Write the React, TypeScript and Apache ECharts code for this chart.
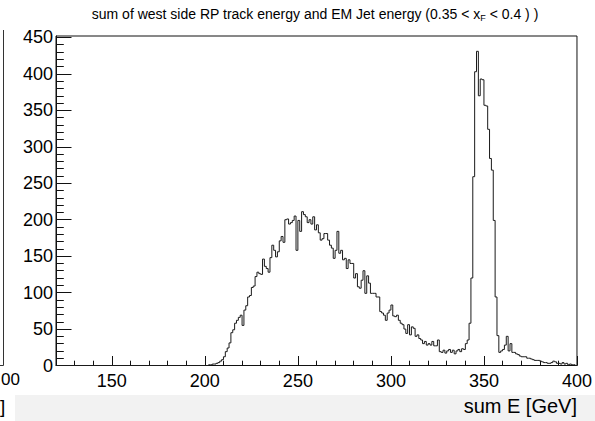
import React, { useEffect, useRef } from "react";
import * as echarts from "echarts";

// Histogram: 1 GeV bins, first bin starts at 200 GeV
const binStart = 200;
const binWidth = 1;
const counts = [
  0, 0, 1, 1, 2, 2, 3, 4, 6, 8,
  12, 19, 24, 31, 45, 49, 58, 62, 66, 69,
  55, 76, 82, 94, 96, 107, 109, 122, 128, 126,
  125, 146, 136, 133, 128, 148, 165, 158, 149, 156,
  171, 177, 169, 200, 201, 194, 196, 199, 205, 158,
  199, 184, 211, 207, 204, 196, 200, 194, 204, 186,
  193, 182, 172, 174, 181, 181, 172, 165, 161, 147,
  158, 184, 154, 158, 145, 147, 133, 145, 140, 140,
  120, 126, 108, 106, 117, 130, 99, 123, 113, 99,
  99, 99, 94, 94, 74, 72, 69, 62, 72, 76,
  83, 68, 67, 69, 62, 58, 56, 50, 44, 56,
  42, 53, 51, 40, 42, 37, 35, 30, 33, 28,
  30, 28, 33, 27, 27, 35, 19, 18, 21, 17,
  20, 22, 18, 21, 16, 20, 22, 19, 23, 22,
  30, 35, 58, 120, 259, 403, 431, 370, 393, 392,
  357, 356, 324, 284, 268, 199, 94, 41, 18, 20,
  22, 28, 40, 20, 30, 18, 18, 16, 15, 13,
  12, 12, 12, 10, 10, 9, 8, 7, 7, 7,
  6, 5, 4, 4, 3, 3, 4, 6, 5, 3,
  3, 2, 4, 2, 3, 1, 2, 1, 1, 0,
];

const xMin = 120;
const xMax = 400;
const yMin = 0;
const yMax = 452;
const xMajorTicks = [150, 200, 250, 300, 350, 400];
const xMinorTicks = [130, 140, 160, 170, 180, 190, 210, 220, 230, 240, 260, 270, 280, 290, 310, 320, 330, 340, 360, 370, 380, 390];
const yMajorTicks = [0, 50, 100, 150, 200, 250, 300, 350, 400, 450];
const yMinorTicks = [10, 20, 30, 40, 60, 70, 80, 90, 110, 120, 130, 140, 160, 170, 180, 190, 210, 220, 230, 240, 260, 270, 280, 290, 310, 320, 330, 340, 360, 370, 380, 390, 410, 420, 430, 440];

const titleText = "sum of west side RP track energy and EM Jet energy (0.35 < x{sub|F} < 0.4 ) )";
const xTitle = "sum E [GeV]";
// fragments of the neighbouring (cropped) panel at the left edge
const neighbourTickLabel = "00";
const neighbourTitleEnd = "]";

const FONT = "'Liberation Sans', Arial, Helvetica, sans-serif";

export default function App() {
  const ref = useRef<HTMLDivElement>(null);
  useEffect(() => {
    if (!ref.current) return;
    const chart = echarts.init(ref.current, null, { renderer: "svg" });
    const data: number[][] = [[xMin, 0]];
    counts.forEach((c, i) => data.push([binStart + i * binWidth, c]));
    data.push([binStart + counts.length * binWidth, counts[counts.length - 1]]);

    const labelStyle = { color: "#000", fontSize: 18, fontFamily: FONT };
    chart.setOption({
      animation: false,
      backgroundColor: "#fff",
      grid: {
        left: 56,
        top: 36,
        width: 522,
        height: 329.5,
        show: true,
        borderColor: "#111",
        borderWidth: 1,
        backgroundColor: "transparent",
      },
      xAxis: [
        {
          type: "value",
          min: xMin,
          max: xMax,
          position: "bottom",
          axisLine: { show: true, lineStyle: { color: "#111", width: 1 } },
          axisTick: { show: true, inside: true, length: 9.5, customValues: xMajorTicks, lineStyle: { color: "#111" } },
          axisLabel: { show: true, customValues: xMajorTicks, margin: 6, ...labelStyle },
          splitLine: { show: false },
        },
        {
          type: "value",
          min: xMin,
          max: xMax,
          position: "bottom",
          axisLine: { show: false },
          axisTick: { show: true, inside: true, length: 4.8, customValues: xMinorTicks, lineStyle: { color: "#111" } },
          axisLabel: { show: false },
          splitLine: { show: false },
        },
      ],
      yAxis: [
        {
          type: "value",
          min: yMin,
          max: yMax,
          position: "left",
          axisLine: { show: true, lineStyle: { color: "#111", width: 1 } },
          axisTick: { show: true, inside: true, length: 15.5, customValues: yMajorTicks, lineStyle: { color: "#111" } },
          axisLabel: { show: true, customValues: yMajorTicks, margin: 3, ...labelStyle },
          splitLine: { show: false },
        },
        {
          type: "value",
          min: yMin,
          max: yMax,
          position: "left",
          axisLine: { show: false },
          axisTick: { show: true, inside: true, length: 7.8, customValues: yMinorTicks, lineStyle: { color: "#111" } },
          axisLabel: { show: false },
          splitLine: { show: false },
        },
      ],
      series: [
        {
          type: "line",
          xAxisIndex: 0,
          yAxisIndex: 0,
          step: "end",
          data,
          showSymbol: false,
          symbol: "none",
          lineStyle: { color: "#1a1a1a", width: 1 },
          z: 3,
        },
      ],
      graphic: [
        {
          type: "rect",
          z: -1,
          shape: { x: 15, y: 395, width: 580, height: 26 },
          style: { fill: "#f2f2f2" },
        },
        {
          type: "text",
          x: 315,
          y: 5,
          style: {
            text: titleText,
            align: "center",
            verticalAlign: "top",
            fontSize: 14,
            fontFamily: FONT,
            fill: "#000",
            rich: {
              sub: { fontSize: 9, fontFamily: FONT, fill: "#000", padding: [8, 0, 0, 0] },
            },
          },
        },
        {
          type: "text",
          x: 577,
          y: 396,
          style: { text: xTitle, align: "right", verticalAlign: "top", fontSize: 20, fontFamily: FONT, fill: "#000" },
        },
        {
          type: "line",
          shape: { x1: 3.5, y1: 30, x2: 3.5, y2: 365.5 },
          style: { stroke: "#333", lineWidth: 1 },
        },
        {
          type: "line",
          shape: { x1: 0, y1: 365.5, x2: 3.5, y2: 365.5 },
          style: { stroke: "#333", lineWidth: 1 },
        },
        {
          type: "text",
          x: 1,
          y: 371,
          style: { text: neighbourTickLabel, align: "left", verticalAlign: "top", fontSize: 17, fontFamily: FONT, fill: "#000" },
        },
        {
          type: "text",
          x: 0,
          y: 397,
          style: { text: neighbourTitleEnd, align: "left", verticalAlign: "top", fontSize: 19, fontFamily: FONT, fill: "#000" },
        },
      ],
    });
    return () => chart.dispose();
  }, []);
  return <div ref={ref} style={{ position: "fixed", left: 0, top: 0, width: 595, height: 421 }} />;
}
